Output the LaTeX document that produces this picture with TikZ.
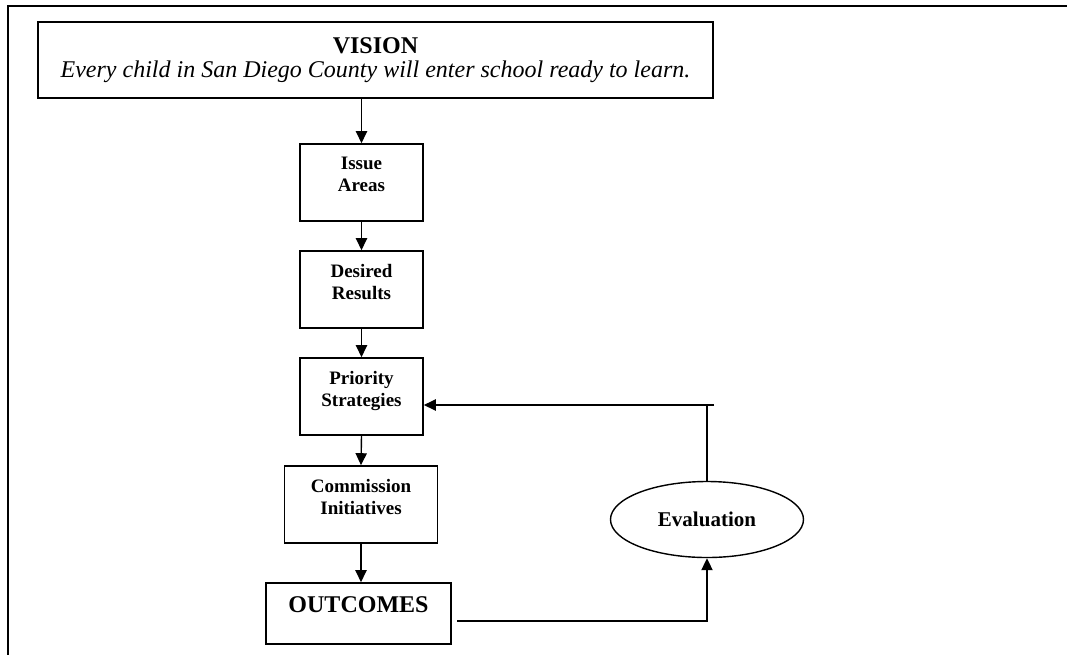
\documentclass[tikz,border=0pt]{standalone}
\usepackage{fontspec}
\setmainfont{Liberation Serif}
\usetikzlibrary{arrows.meta,shapes.geometric}

\tikzset{
  etape/.style={draw, line width=0.8pt, rectangle, align=center,
    minimum width=61.5pt, minimum height=38.5pt, inner sep=0pt,
    text depth=8pt,
    font=\bfseries\fontsize{9.5}{11}\selectfont},
  fleche/.style={line width=0.7pt, -{Triangle[length=6pt,width=5.6pt]}},
  trait/.style={line width=0.7pt}
}

\begin{document}
\begin{tikzpicture}[x=0.5pt,y=-0.5pt]

\useasboundingbox
(0,0)
rectangle
(1067,655);

% Cadre
\draw[line width=0.9pt]
(1067,6)
--
(8,6)
--
(8,655);

% Vision
\node[draw, line width=0.8pt, align=center, inner sep=0pt,
  minimum width=337.5pt, minimum height=38pt]
(vision) at (375.5,60)
{{\bfseries\fontsize{12}{14}\selectfont VISION}\\
 {\itshape\fontsize{12}{14}\selectfont Every child in San Diego County will enter school ready to learn.}};

% Etapes
\node[etape] (issue) at (361.5,182.5) {Issue\\Areas};
\node[etape] (desired) at (361.5,289.5) {Desired\\Results};
\node[etape] (priority) at (361.5,396.5) {Priority\\Strategies};
\node[etape, minimum width=76.5pt]
(commission) at (361,504.5) {Commission\\Initiatives};
\node[etape, minimum width=92.5pt, minimum height=30.5pt,
  text depth=9pt, font=\bfseries\fontsize{12}{14}\selectfont]
(outcomes) at (358.5,613.5) {OUTCOMES};

% Evaluation
\node[draw, line width=0.7pt, ellipse, inner sep=0pt,
  minimum width=96.5pt, minimum height=38pt,
  font=\bfseries\fontsize{10.5}{12}\selectfont]
(evaluation) at (707,519.5) {Evaluation};

% Fleches verticales
\draw[fleche]
(vision.south -| issue.north)
--
(issue.north);

\draw[fleche]
(issue.south)
--
(desired.north);

\draw[fleche]
(desired.south)
--
(priority.north);

\draw[fleche]
(priority.south)
--
(commission.north);

\draw[fleche]
(commission.south)
--
(commission.south |- outcomes.north);

% Boucle
\coordinate (depart) at (457,621);
\coordinate (retour) at (714,405);

\draw[fleche]
(depart)
--
(depart -| evaluation.south)
--
(evaluation.south);

\draw[trait]
(retour)
--
(retour -| evaluation.north);

\draw[fleche]
(evaluation.north)
--
(evaluation.north |- retour)
--
(retour -| priority.east);

\end{tikzpicture}
\end{document}
